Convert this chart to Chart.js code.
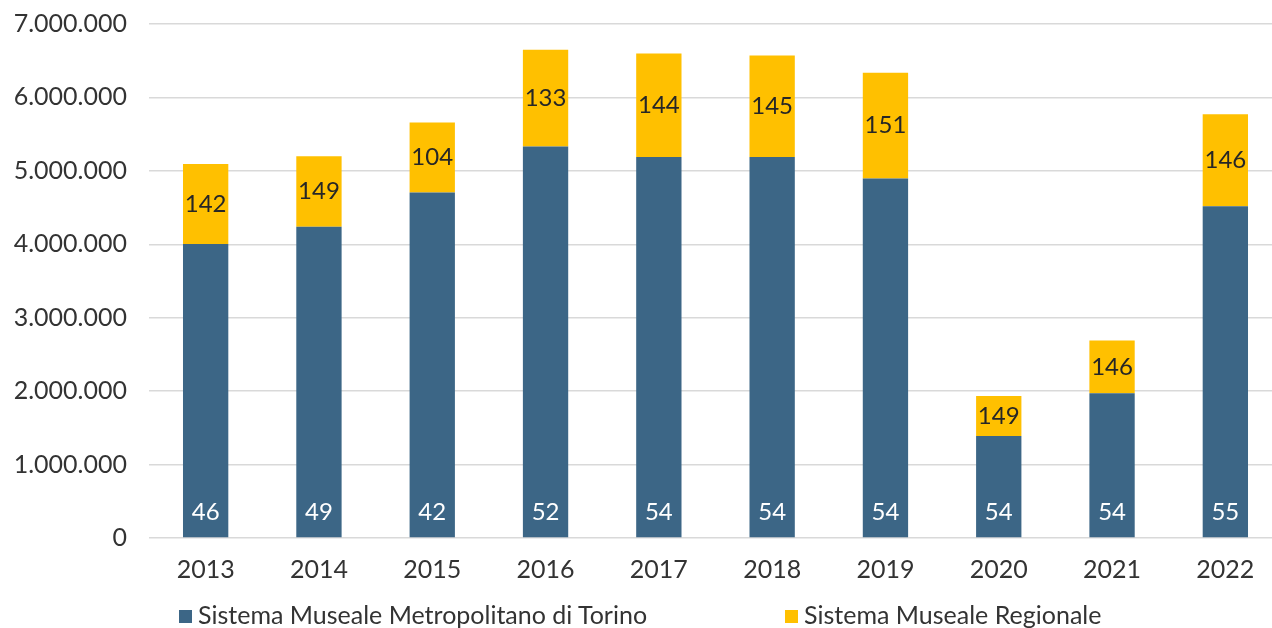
<!DOCTYPE html>
<html lang="it">
<head>
<meta charset="utf-8">
<title>Visitatori musei Torino 2013-2022</title>
<script src="https://cdn.jsdelivr.net/npm/chart.js@4.4.1/dist/chart.umd.min.js"></script>
<style>
  html, body { margin: 0; padding: 0; background: #fff; overflow: hidden; }
  .wrap { position: relative; width: 1272px; height: 628px; overflow: hidden; }
  #museumChart { display: block; }
  .legend {
    position: absolute; left: 179px; top: 600px;
    display: flex; gap: 138px;
    font-family: Lato, sans-serif; font-size: 25px; color: #333333;
    white-space: nowrap; line-height: 29px;
  }
  .legend span.box { display: inline-block; width: 13px; height: 13px; margin-right: 6px; vertical-align: 1px; }
</style>
</head>
<body>
<div class="wrap">
  <!-- the original plot runs a little past the right edge, so the canvas is wider than the window -->
  <canvas id="museumChart" width="1282" height="628"></canvas>
  <div class="legend" id="legend"></div>
</div>
<script>
const years = ['2013', '2014', '2015', '2016', '2017', '2018', '2019', '2020', '2021', '2022'];
const metroVisitors = [4005000, 4240000, 4704000, 5331000, 5190000, 5190000, 4895000, 1390000, 1971000, 4519000];
const regionalVisitors = [1090000, 960000, 954000, 1318000, 1408000, 1381000, 1440000, 545000, 717000, 1253000];
const metroMuseums = [46, 49, 42, 52, 54, 54, 54, 54, 54, 55];
const regionalMuseums = [142, 149, 104, 133, 144, 145, 151, 149, 146, 146];
const yTicks = [0, 1000000, 2000000, 3000000, 4000000, 5000000, 6000000, 7000000];

const BLUE = '#3c6686';
const YELLOW = '#ffc000';
const FONT = 'Lato, sans-serif';

function puntini(v) {
  return String(v).replace(/\B(?=(\d{3})+(?!\d))/g, '.');
}

// numero di musei scritto dentro ogni barra
const museumLabels = {
  id: 'museumLabels',
  afterDatasetsDraw(chart) {
    const ctx = chart.ctx;
    ctx.save();
    ctx.font = '24px ' + FONT;
    ctx.textAlign = 'center';
    ctx.textBaseline = 'middle';
    chart.getDatasetMeta(0).data.forEach((bar, i) => {
      ctx.fillStyle = '#ffffff';
      ctx.fillText(metroMuseums[i], bar.x, bar.base - 25);
    });
    chart.getDatasetMeta(1).data.forEach((bar, i) => {
      ctx.fillStyle = '#262626';
      ctx.fillText(regionalMuseums[i], bar.x, (bar.y + bar.base) / 2);
    });
    ctx.restore();
  }
};

const chart = new Chart(document.getElementById('museumChart').getContext('2d'), {
  type: 'bar',
  data: {
    labels: years,
    datasets: [{
      label: 'Sistema Museale Metropolitano di Torino',
      data: metroVisitors,
      backgroundColor: BLUE,
      barPercentage: 0.4,
      categoryPercentage: 1
    }, {
      label: 'Sistema Museale Regionale',
      data: regionalVisitors,
      backgroundColor: YELLOW,
      barPercentage: 0.4,
      categoryPercentage: 1
    }]
  },
  options: {
    responsive: false,
    animation: false,
    layout: { padding: { top: 0, right: 0, bottom: 40, left: 0 } },
    plugins: {
      legend: { display: false },
      tooltip: { enabled: false }
    },
    scales: {
      x: {
        stacked: true,
        grid: { display: false, drawTicks: false },
        border: { display: false },
        ticks: { color: '#333333', padding: 17, font: { family: FONT, size: 25 } },
        afterFit(scale) { scale.height = 50; }
      },
      y: {
        stacked: true,
        min: 0,
        max: 7000000,
        afterBuildTicks(scale) { scale.ticks = yTicks.map(v => ({ value: v })); },
        grid: { color: '#d9d9d9', lineWidth: 1.5, drawTicks: false },
        border: { display: false },
        ticks: {
          color: '#333333',
          padding: 22,
          font: { family: FONT, size: 25 },
          callback: v => puntini(v)
        },
        afterFit(scale) {
          scale.width = 149;
          scale.paddingTop = 24;
          scale.paddingBottom = 0;
        }
      }
    }
  },
  plugins: [museumLabels]
});

// legenda costruita dai dataset
const legend = document.getElementById('legend');
chart.data.datasets.forEach(ds => {
  const item = document.createElement('div');
  item.innerHTML = `<span class="box" style="background:${ds.backgroundColor}"></span>${ds.label}`;
  legend.appendChild(item);
});
</script>
</body>
</html>
